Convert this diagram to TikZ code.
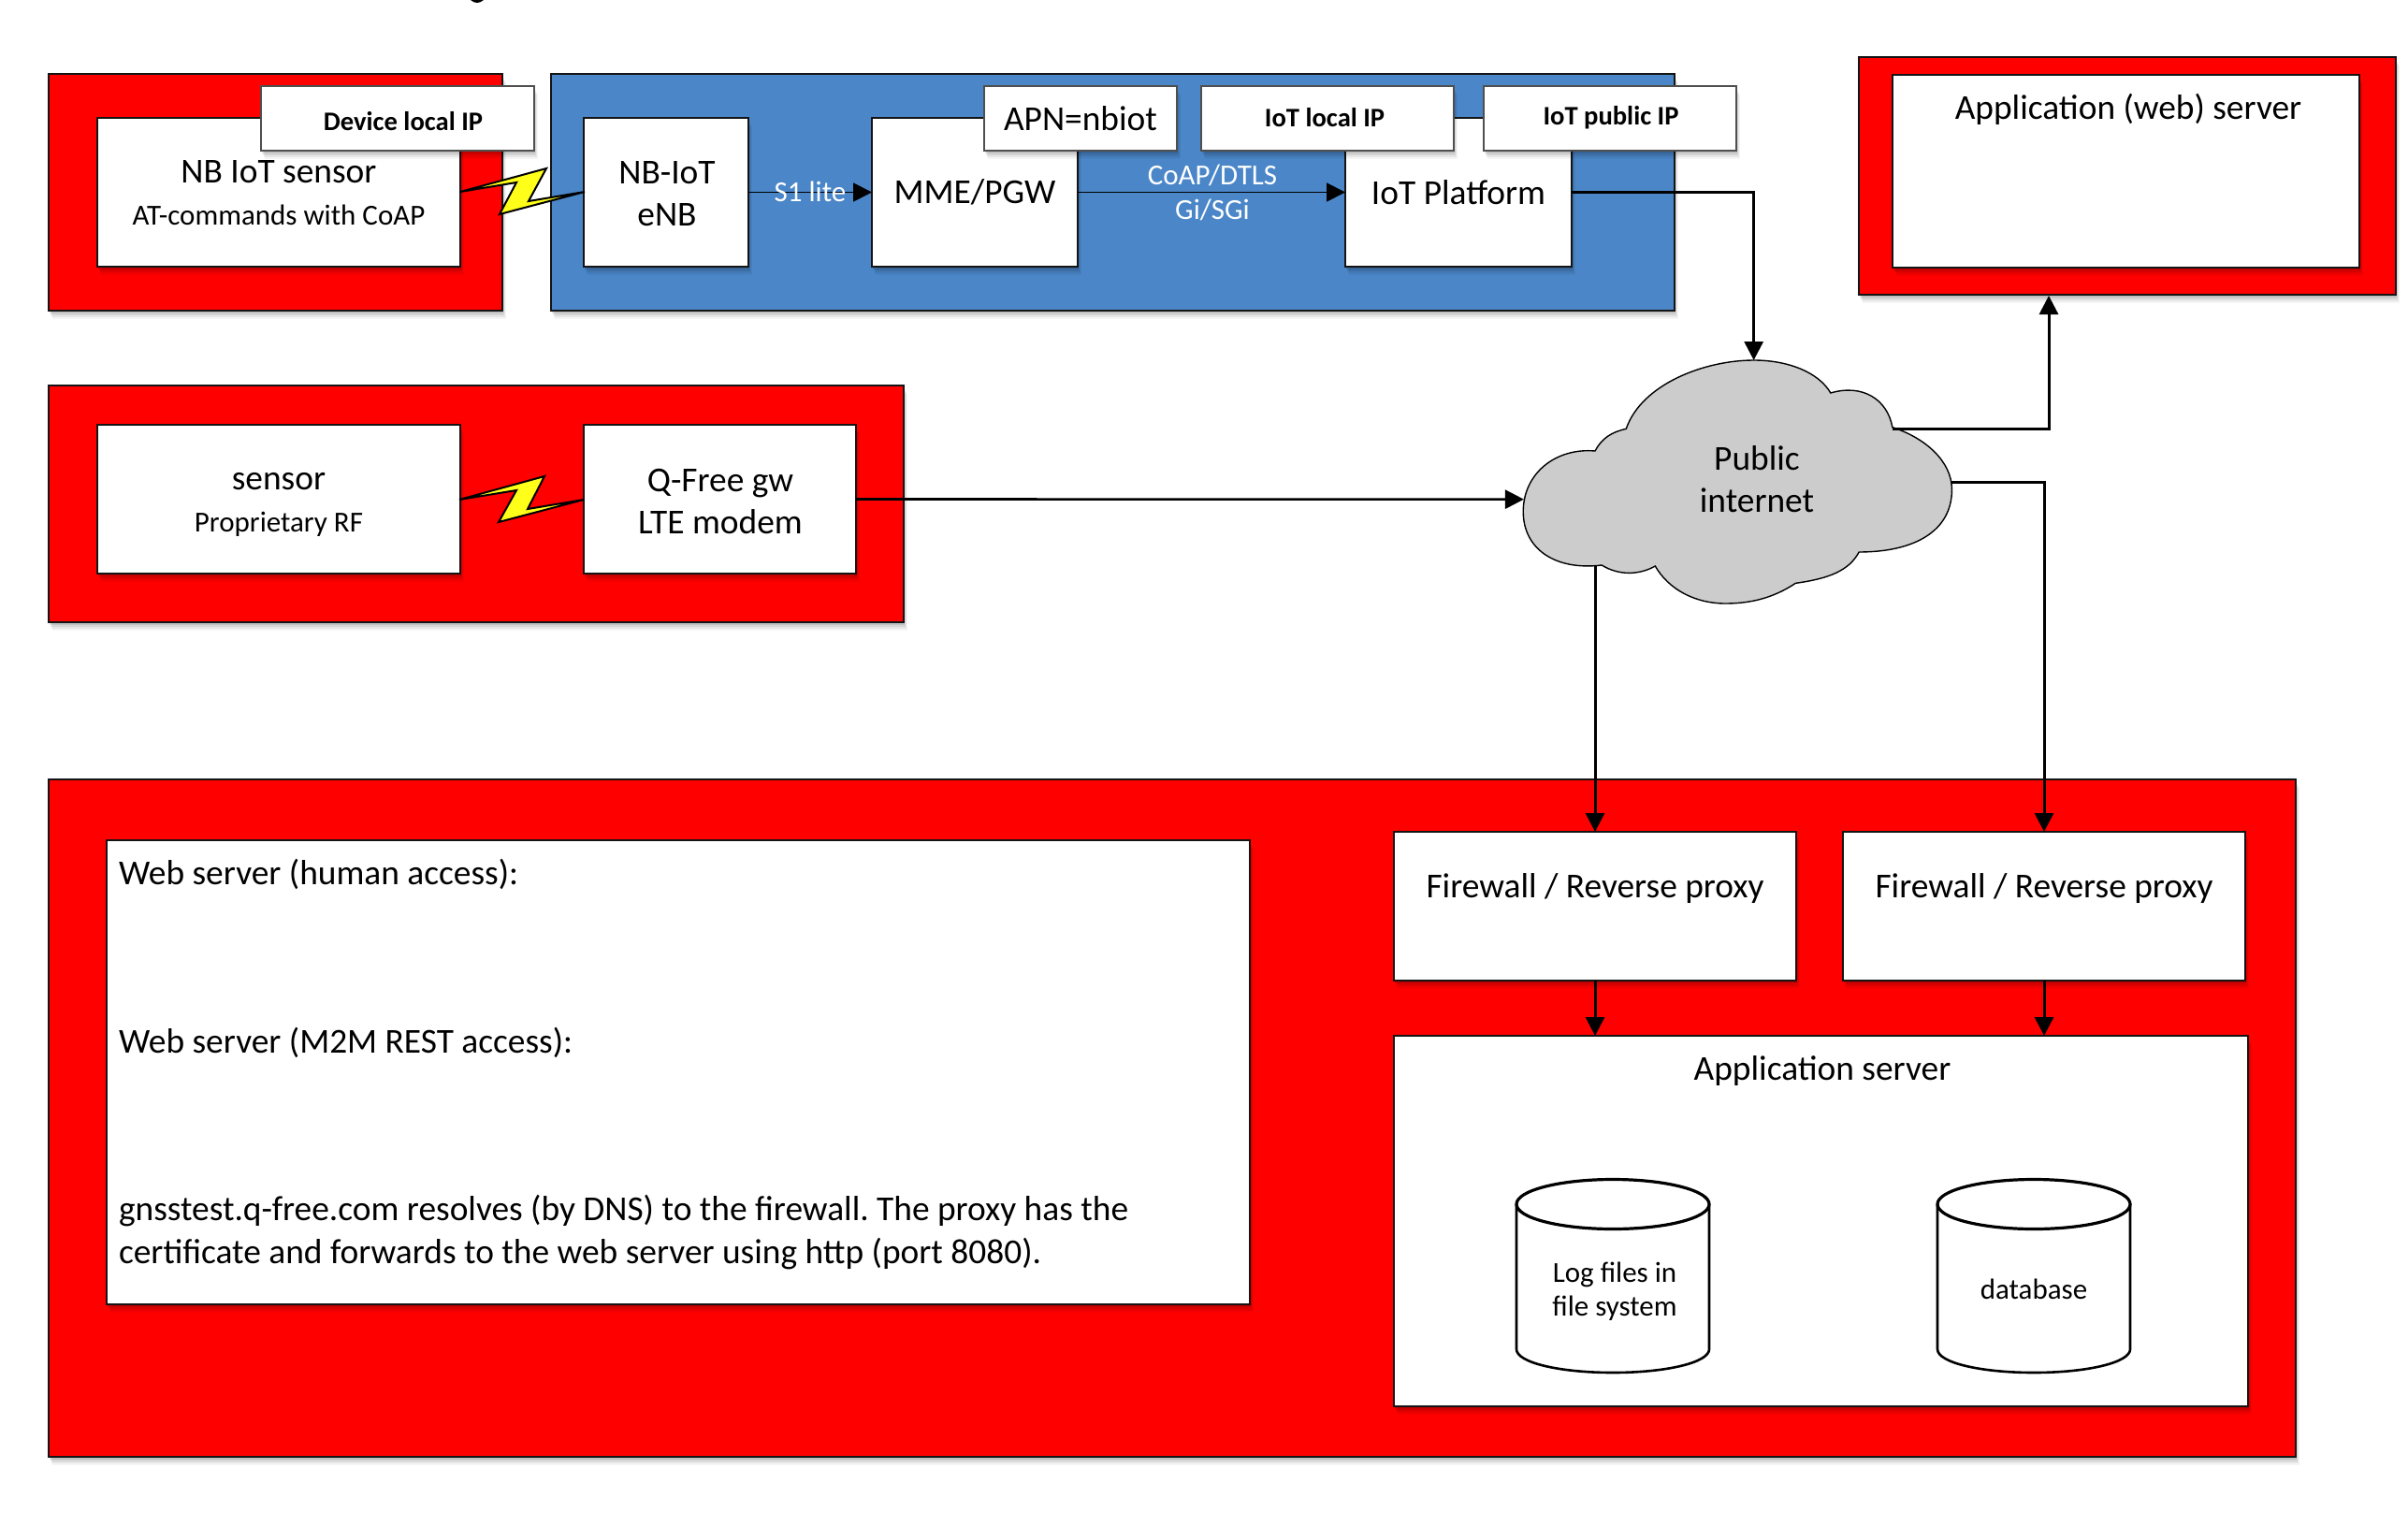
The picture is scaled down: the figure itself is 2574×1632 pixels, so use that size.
\documentclass[tikz,border=0pt]{standalone}
\usepackage{fontspec}
\setmainfont{Carlito}
\usetikzlibrary{arrows.meta,shadows,calc}
\definecolor{redbg}{HTML}{FF0000}
\definecolor{bluebg}{HTML}{4A86C8}
\definecolor{cloudgray}{HTML}{CCCCCC}
\definecolor{boltyellow}{HTML}{FFFF1A}
\definecolor{edge}{HTML}{141414}
\newcommand\bx[7][]{%
  \pgfmathsetmacro\bw{(#5-#3)*0.5}\pgfmathsetmacro\bh{(#6-#4)*0.5}%
  \node[boxbase,#1,minimum width=\bw pt,minimum height=\bh pt] (#2) at ({(#3+#5)/2},{(#4+#6)/2}) {#7};}
\tikzset{
  x=0.5pt,y=-0.5pt,
  softshadow/.style={
    general shadow={shadow xshift=2pt,shadow yshift=-4.4pt,fill=black,opacity=.04,draw=none},
    general shadow={shadow xshift=1.5pt,shadow yshift=-3.4pt,fill=black,opacity=.06,draw=none},
    general shadow={shadow xshift=1pt,shadow yshift=-2.4pt,fill=black,opacity=.07,draw=none},
    general shadow={shadow xshift=.5pt,shadow yshift=-1.6pt,fill=black,opacity=.09,draw=none}},
  boxbase/.style={draw=edge,line width=.9pt,inner sep=0pt,outer sep=0pt,rectangle,align=center,softshadow,font=\txt},
  whitebox/.style={fill=white},
  redbox/.style={fill=redbg},
  bluebox/.style={fill=bluebg},
  callout/.style={fill=white,draw=edge!75,line width=.7pt},
  txtlabel/.style={inner sep=0pt,outer sep=0pt,align=center,font=\txt},
  small/.style={inner sep=0pt,outer sep=0pt,align=center,font=\smalltxt},
  tag/.style={inner sep=0pt,outer sep=0pt,align=center,font=\tagtxt},
  leftlabel/.style={inner sep=0pt,outer sep=0pt,anchor=west,align=left,font=\txt},
  wire/.style={draw=black,line width=1.5pt,-{Triangle[length=10pt,width=10pt]}},
  thinwire/.style={draw=black,line width=.9pt,-{Triangle[length=10pt,width=10pt]}},
  bolt/.style={fill=boltyellow,draw=black,line width=1pt,line join=miter,miter limit=10},
  cyl/.style={draw=black,line width=1.3pt,fill=white},
}
\newcommand\txt{\frenchspacing\fontsize{18.7}{22.6}\selectfont}
\newcommand\smalltxt{\fontsize{15.5}{18}\selectfont}
\newcommand\tagtxt{\fontsize{14.3}{18}\selectfont\bfseries}
\begin{document}
\begin{tikzpicture}
\useasboundingbox (0,0) rectangle (2574,1632);
\fill[white] (0,0) rectangle (2574,1632);
% clipped glyph tail at the top edge
\fill[black] (503,0) .. controls (508,4) and (512,4) .. (517,0) -- cycle;
% backgrounds
\bx[redbox]{nbred}{52}{79}{537}{332}{}
\bx[bluebox]{blue}{589}{79}{1790}{332}{}
\bx[redbox]{webred}{1987}{61}{2561}{315}{}
\bx[redbox]{qred}{52}{412}{966}{665}{}
\bx[redbox]{bigred}{52}{833}{2454}{1557}{}
% top row boxes
\bx[whitebox]{nbsensor}{104}{126}{492}{285}{}
\bx[whitebox]{enb}{624}{126}{800}{285}{}
\bx[whitebox]{mme}{932}{126}{1152}{285}{MME/PGW}
\bx[whitebox]{plat}{1438}{126}{1680}{285}{IoT Platform}
\bx[whitebox]{web}{2023}{80}{2522}{286}{}
\bx[whitebox]{sensor}{104}{454}{492}{613}{}
\bx[whitebox]{qfree}{624}{454}{915}{613}{}
% lower boxes
\bx[whitebox]{panel}{114}{898}{1336}{1394}{}
\bx[whitebox]{fwa}{1490}{889}{1920}{1048}{}
\bx[whitebox]{fwb}{1970}{889}{2400}{1048}{}
\bx[whitebox]{app}{1490}{1107}{2403}{1503}{}
% cloud
\begin{scope}[shift={(1580,360)},xscale=0.35714,yscale=0.33333]
\draw[fill=cloudgray,draw=black,line width=.7pt]
  (443,295) .. controls (490,150) and (680,75) .. (825,75)
  .. controls (930,75) and (1020,115) .. (1055,180)
  .. controls (1150,150) and (1225,200) .. (1240,290)
  .. controls (1340,325) and (1418,400) .. (1418,490)
  .. controls (1418,620) and (1310,690) .. (1140,690)
  .. controls (1110,750) and (1050,775) .. (950,790)
  .. controls (880,840) and (810,855) .. (740,855)
  .. controls (650,855) and (570,810) .. (530,735)
  .. controls (480,765) and (420,765) .. (370,732)
  .. controls (230,750) and (135,680) .. (135,560)
  .. controls (135,440) and (230,355) .. (350,366)
  .. controls (370,325) and (400,305) .. (443,295) -- cycle;
\coordinate (ctop) at (825,75);
\coordinate (cleft) at (137,521);
\coordinate (cbl) at (350,735);
\coordinate (crup) at (1240,295);
\coordinate (crdn) at (1417,466);
\end{scope}
\node[txtlabel] (cloudtxt) at (1878,512) {Public\\internet};
% bolts
\draw[bolt] (492,205) -- (584,180) -- (565,215) -- (625,205) -- (534,229) -- (552,195) -- cycle;
\draw[bolt] (491,534) -- (582,509) -- (564,544) -- (624,534) -- (533,558) -- (552,524) -- cycle;
% callouts on top
\bx[callout]{tagdev}{279}{92}{571}{161}{}
\bx[callout]{tagapn}{1052}{92}{1258}{161}{APN=nbiot}
\bx[callout]{taglocal}{1284}{92}{1554}{161}{}
\bx[callout]{tagpub}{1586}{92}{1856}{161}{}
% connectors
\coordinate (webin) at (2190,316);
\draw[thinwire] (enb.east) -- (mme.west);
\draw[thinwire] (mme.east) -- (plat.west);
\draw[wire] (plat.east) -| (ctop);
\draw[wire,line width=1.3pt] (qfree.east) -- (cleft);
\draw[wire] (crup) -| (webin);
\draw[wire] (crdn) -| (fwb.north);
\draw[wire] (cbl) -- (cbl |- fwa.north);
\draw[wire] (fwa.south) -- (fwa.south |- app.north);
\draw[wire] (fwb.south) -- (fwb.south |- app.north);
% cylinders
\foreach \nm/\xa/\xb in {cyla/1621/1827,cylb/2071/2277}{
  \pgfmathsetmacro\xc{(\xa+\xb)/2}
  \pgfmathsetmacro\rx{(\xb-\xa)/2}
  \draw[cyl] (\xa,1287) -- (\xa,1442) .. controls (\xa,1456) and ({\xa+45},1467) .. (\xc,1467)
     .. controls ({\xb-45},1467) and (\xb,1456) .. (\xb,1442) -- (\xb,1287);
  \draw[cyl,line width=1.6pt] (\xc,1287) ellipse ({\rx} and 26.5);
  \coordinate (\nm) at (\xc,1368);
}
% labels
\node[tag] (tdev) at (431,130) {Device local IP};
\node[tag] (tlocal) at (1416,126) {IoT local IP};
\node[tag] (tpub) at (1722,126) {IoT public IP};
\node[txtlabel] (lnb) at (298,184) {NB IoT sensor};
\node[small] (lat) at (298,230) {AT-commands with CoAP};
\node[txtlabel] (lenb) at (713,207) {NB-IoT\\eNB};
\node[small,text=white] (ls1) at (866,205) {S1 lite};
\node[small,text=white] (lcoap) at (1296,187) {CoAP/DTLS};
\node[small,text=white] (lgi) at (1296,224) {Gi/SGi};
\node[txtlabel] (lweb) at (2275,117) {Application (web) server};
\node[txtlabel] (lsens) at (298,515) {sensor};
\node[small] (lprop) at (298,560) {Proprietary RF};
\node[txtlabel] (lq) at (770,536) {Q-Free gw\\LTE modem};
\node[txtlabel] (lfwa) at (1705,950) {Firewall / Reverse proxy};
\node[txtlabel] (lfwb) at (2185,950) {Firewall / Reverse proxy};
\node[txtlabel] (lapp) at (1948,1145) {Application server};
\node[small] (llog) at (1726,1380) {Log files in\\file system};
\node[small] (ldb) at (2174,1378) {database};
\node[leftlabel] (lh) at (127,934) {Web server (human access):};
\node[leftlabel] (lm) at (127,1114) {Web server (M2M REST access):};
\node[leftlabel] (lg) at (127,1317) {gnsstest.q-free.com resolves (by DNS) to the firewall. The proxy has the\\certificate and forwards to the web server using http (port 8080).};
\end{tikzpicture}
\end{document}
